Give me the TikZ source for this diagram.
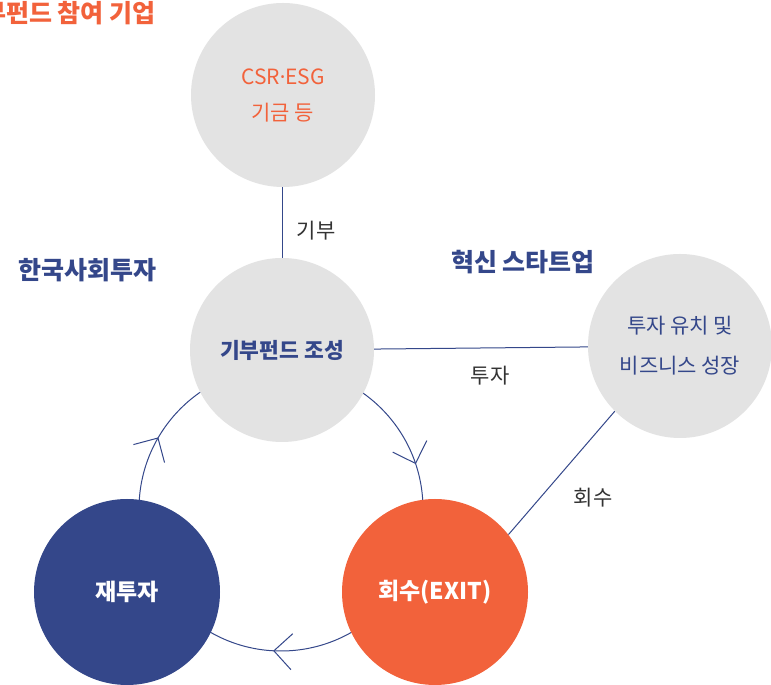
\documentclass[tikz,border=0pt]{standalone}
\usepackage{fontspec}
\usetikzlibrary{decorations.markings,backgrounds}
\newfontfamily\kr{Noto Sans CJK KR}
\newfontfamily\latdot{Noto Sans}
\definecolor{navy}{HTML}{34478A}
\definecolor{orng}{HTML}{F2623B}
\definecolor{lgray}{HTML}{E3E3E3}
\definecolor{dtext}{HTML}{333333}
\begin{document}
\begin{tikzpicture}[x=1pt,y=1pt,
  bub/.style={circle, minimum size=184pt, inner sep=0pt, align=center},
  graybub/.style={bub, fill=lgray},
  bigbub/.style={circle, minimum size=186pt, inner sep=0pt, align=center, text=white, font=\kr\bfseries\fontsize{23}{28}\selectfont},
  conn/.style={draw=navy, line width=1pt},
  lbl/.style={text=dtext, font=\kr\fontsize{21}{26}\selectfont},
  title/.style={font=\kr\bfseries\fontsize{25}{30}\selectfont},
  barb/.style={draw=navy, line width=1pt}]
\useasboundingbox (0,0) rectangle (771,685);
\clip (0,0) rectangle (771,685);

% circles
\node[graybub, text=orng, font=\kr\fontsize{21}{36}\selectfont] (fund) at (283,590) {CSR{\latdot ·}ESG\\기금 등};
\node[graybub, text=navy, font=\kr\bfseries\fontsize{21.5}{26}\selectfont] (mid) at (282,335) {기부펀드 조성};
\node[graybub, text=navy, font=\kr\fontsize{21}{40}\selectfont] (start) at (680,339) {투자 유치 및\\비즈니스 성장};
\node[bigbub, fill=navy] (re) at (127,93) {재투자};
\node[bigbub, fill=orng] (exit) at (435,93) {회수(EXIT)};
\coordinate (cyc) at (281,176);

% titles
\node[title, text=orng, anchor=east] (donor) at (159,672) {기부펀드 참여 기업};
\node[title, text=navy] (ksi) at (88,415) {한국사회투자};
\node[title, text=navy] (innov) at (523,423) {혁신 스타트업};

% labels
\node[lbl] (l1) at (316,454) {기부};
\node[lbl] (l2) at (490,309) {투자};
\node[lbl] (l3) at (593,187) {회수};

\begin{scope}[on background layer]
\fill[white] (0,0) rectangle (771,685);
\draw[conn] (fund.south -| mid) -- (mid);
\draw[conn] (mid) -- (start);
\draw[conn] (start.225) -- (exit.38);
\draw[conn, postaction={decorate}, decoration={markings,
   mark=at position 0.0833 with {\draw[barb] (-18pt,18pt) -- (0,0) -- (-18pt,-18pt);},
   mark=at position 0.448 with {\draw[barb] (-18pt,18pt) -- (0,0) -- (-18pt,-18pt);},
   mark=at position 0.758 with {\draw[barb] (-18pt,18pt) -- (0,0) -- (-18pt,-18pt);}}]
  ([shift={(180:142pt)}]cyc) arc[start angle=180, end angle=-180, radius=142pt];
\end{scope}
\end{tikzpicture}
\end{document}
